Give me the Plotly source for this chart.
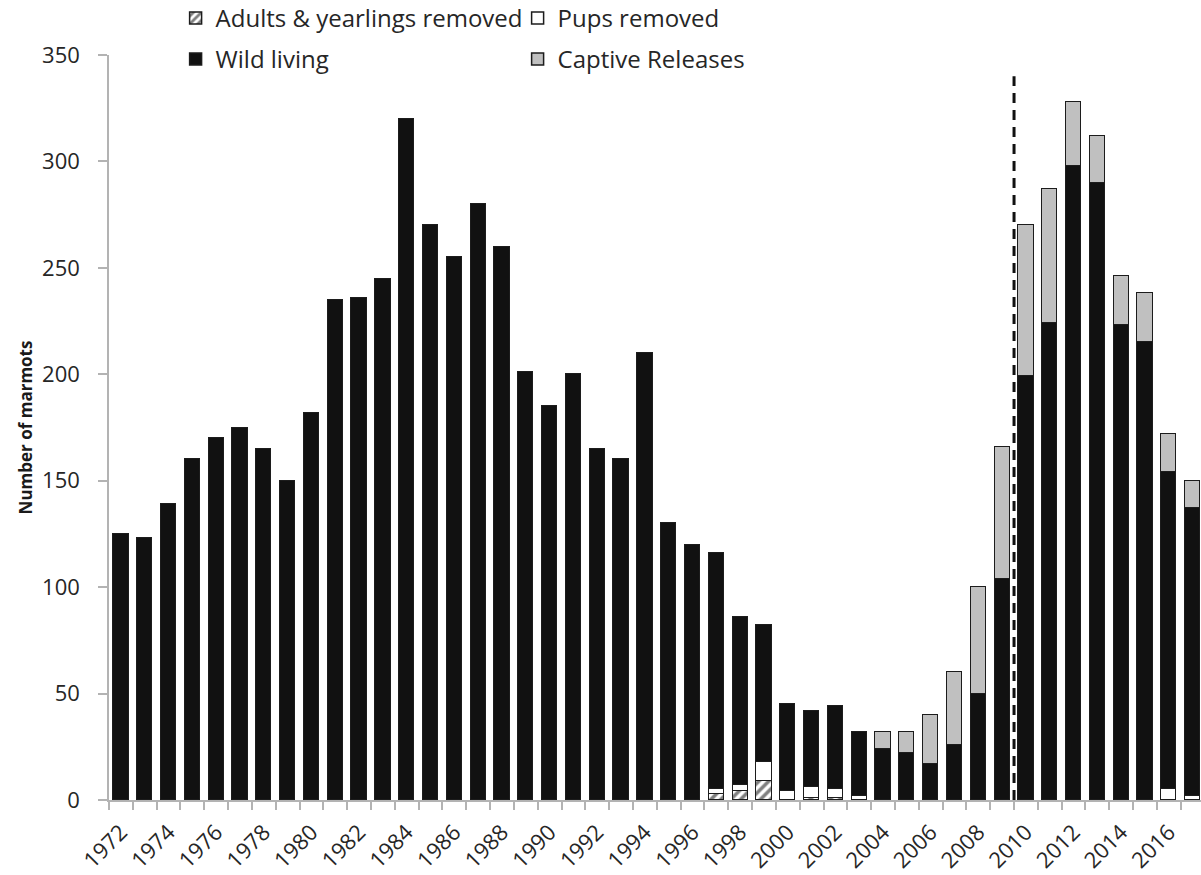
import plotly.graph_objects as go

# Survey years
years = list(range(1972, 2018))

# Animals removed for the captive-breeding programme
adults_yearlings_removed = [0] * 25 + [3, 4, 9, 0, 1, 1, 0] + [0] * 14
pups_removed = [0] * 25 + [2, 3, 9, 4, 5, 4, 2] + [0] * 12 + [5, 2]

# Wild-born marmots counted each year
wild_living = [
    125, 123, 139, 160, 170, 175, 165, 150, 182, 235,
    236, 245, 320, 270, 255, 280, 260, 201, 185, 200,
    165, 160, 210, 130, 120, 111, 79, 64, 41, 36,
    39, 30, 24, 22, 17, 26, 50, 104, 199, 224,
    298, 290, 223, 215, 149, 135,
]

# Captive-bred animals released to the wild
captive_releases = [0] * 32 + [8, 10, 23, 34, 50, 62, 71, 63, 30, 22, 23, 23, 18, 13]

y_ticks = [0, 50, 100, 150, 200, 250, 300, 350]
x_tick_years = list(range(1972, 2017, 2))

FONT = "Open Sans"
TEXT_COL = "#262626"
AXIS_COL = "#b3b3b3"
OUTLINE = dict(color="#1c1c1c", width=1.5)
BAR_W = 0.64

fig = go.Figure()

fig.add_trace(go.Bar(
    x=years, y=adults_yearlings_removed, name="Adults & yearlings removed",
    width=BAR_W,
    marker=dict(color="white", line=OUTLINE,
                pattern=dict(shape="/", fgcolor="#000000", bgcolor="white",
                             size=7, solidity=0.5)),
    legend="legend",
))
fig.add_trace(go.Bar(
    x=years, y=pups_removed, name="Pups removed", width=BAR_W,
    marker=dict(color="white", line=OUTLINE),
    legend="legend",
))
fig.add_trace(go.Bar(
    x=years, y=wild_living, name="Wild living", width=BAR_W,
    marker=dict(color="#111111", line=OUTLINE),
    legend="legend2",
))
fig.add_trace(go.Bar(
    x=years, y=captive_releases, name="Captive Releases", width=BAR_W,
    marker=dict(color="#c0c0c0", line=OUTLINE),
    legend="legend2",
))

# Start of the release era
fig.add_shape(type="line", xref="x", yref="y", x0=2009.5, x1=2009.5, y0=0, y1=340,
              line=dict(color="#111111", width=3, dash="10px,7px"))

legend_common = dict(
    orientation="h", xanchor="left", yanchor="middle",
    font=dict(family=FONT, size=24, color=TEXT_COL),
    bgcolor="rgba(0,0,0,0)", borderwidth=0,
    entrywidth=297, entrywidthmode="pixels",
    itemwidth=30, traceorder="normal", itemclick=False,
)

fig.update_layout(
    width=1201, height=875,
    margin=dict(l=109, r=0, t=55, b=75, autoexpand=False),
    paper_bgcolor="white", plot_bgcolor="white",
    barmode="stack", bargap=0,
    font=dict(family=FONT, size=22, color=TEXT_COL),
    legend=dict(x=0.061, y=1.049, **legend_common),
    legend2=dict(x=0.061, y=0.994, **legend_common),
    xaxis=dict(
        range=[1971.5, 2017.35],
        tickmode="array", tickvals=x_tick_years,
        ticktext=[str(v) for v in x_tick_years],
        tickangle=-45, ticks="", ticklen=0,
        ticklabelstandoff=9,
        tickfont=dict(family=FONT, size=22, color=TEXT_COL),
        showline=True, linecolor=AXIS_COL, linewidth=1.5,
        showgrid=False, zeroline=False,
        minor=dict(tick0=1971.5, dtick=1, ticks="outside", ticklen=8,
                   tickcolor=AXIS_COL, tickwidth=1.5, showgrid=False),
    ),
    yaxis=dict(
        range=[0, 350], tickmode="array", tickvals=y_ticks,
        ticks="outside", ticklen=9, tickcolor=AXIS_COL, tickwidth=1.5,
        ticklabelstandoff=14,
        tickfont=dict(family=FONT, size=22, color=TEXT_COL),
        showline=True, linecolor=AXIS_COL, linewidth=1.5,
        showgrid=False, zeroline=False,
        title=dict(text="<b>Number of marmots</b>", standoff=5,
                   font=dict(family=FONT, size=17, color="#1a1a1a")),
    ),
)

fig.write_html("out.html")
